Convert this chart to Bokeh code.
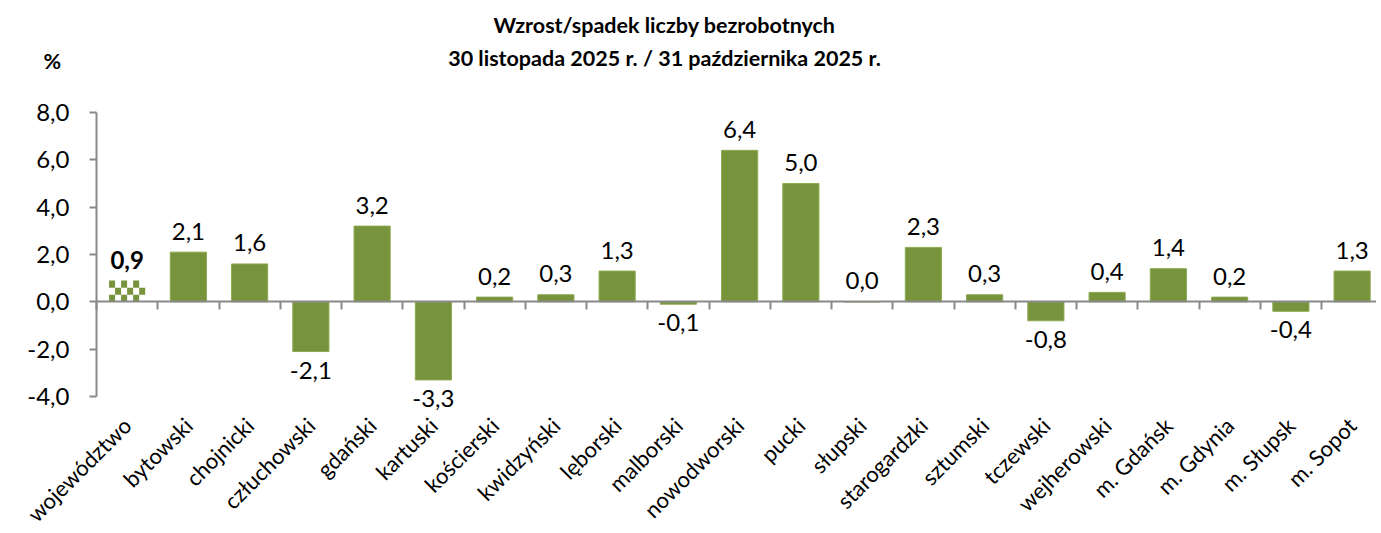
import math
from bokeh.plotting import figure
from bokeh.models import (Range1d, ColumnDataSource, FixedTicker, LinearAxis,
                          CustomJSTickFormatter, Label)
from bokeh.core.properties import value
from bokeh.embed import file_html
from bokeh.resources import INLINE

# ---------------- data ----------------
categories = ["województwo", "bytowski", "chojnicki", "człuchowski", "gdański",
              "kartuski", "kościerski", "kwidzyński", "lęborski", "malborski",
              "nowodworski", "pucki", "słupski", "starogardzki", "sztumski",
              "tczewski", "wejherowski", "m. Gdańsk", "m. Gdynia", "m. Słupsk",
              "m. Sopot"]
values = [0.9, 2.1, 1.6, -2.1, 3.2, -3.3, 0.2, 0.3, 1.3, -0.1,
          6.4, 5.0, 0.0, 2.3, 0.3, -0.8, 0.4, 1.4, 0.2, -0.4, 1.3]
highlight = ["województwo"]
y_ticks = [-4, -2, 0, 2, 4, 6, 8]
title_line1 = "Wzrost/spadek liczby bezrobotnych"
title_line2 = "30 listopada 2025 r. / 31 października 2025 r."
unit_label = "%"

# ---------------- geometry / style ----------------
W, H = 1376, 528
AXIS_X_PX = 96          # pixel position of the value axis
CAT_PX = 61.25          # pixel width of one category slot
Y_MIN, Y_MAX = -4, 8
Y_TOP_PX, Y_BOT_PX = 112, 396
FONT = "Lato"
BAR = "#77933C"
BAR_EDGE = "#8DAA4F"
AXIS = "#898989"
BAR_W = 0.59

ppu = (Y_BOT_PX - Y_TOP_PX) / (Y_MAX - Y_MIN)
x0 = -0.5 - AXIS_X_PX / CAT_PX
x_range = Range1d(x0, x0 + W / CAT_PX)
y_range = Range1d(Y_MIN - (H - Y_BOT_PX) / ppu, Y_MAX + Y_TOP_PX / ppu)

p = figure(width=W, height=H, x_range=x_range, y_range=y_range,
           output_backend="svg", toolbar_location=None,
           x_axis_location=None, y_axis_location=None,
           min_border=0)
p.title.visible = False
p.outline_line_color = None
p.grid.visible = False
p.background_fill_color = "white"
p.border_fill_color = "white"

idx = list(range(len(categories)))

# normal bars
nsel = [i for i in idx if categories[i] not in highlight]
src = ColumnDataSource(dict(x=nsel, val=[values[i] for i in nsel]))
p.vbar(x="x", top="val", bottom=0, width=BAR_W, source=src,
       fill_color=BAR, line_color=BAR_EDGE, line_width=1)

# checkered highlight bar(s)
cols, rows = 6, 3
cx, cy, cw, ch = [], [], [], []
for i in idx:
    if categories[i] not in highlight:
        continue
    v = values[i]
    w = BAR_W / cols
    h = v / rows
    for r in range(rows):
        for k in range(cols):
            if (r + k) % 2 == 0:
                cx.append(i - BAR_W / 2 + w * (k + 0.5))
                cy.append(h * (r + 0.5))
                cw.append(w)
                ch.append(h)
p.rect(x=cx, y=cy, width=cw, height=ch, fill_color=BAR, line_color=None)

# category axis at zero (line + boundary ticks, no labels)
bounds_x = [i - 0.5 for i in idx] + [idx[-1] + 0.5]
xa = LinearAxis(fixed_location=0, bounds=(bounds_x[0], bounds_x[-1]),
                ticker=FixedTicker(ticks=bounds_x),
                formatter=CustomJSTickFormatter(code="return '';"),
                axis_line_color=AXIS, axis_line_width=2,
                major_tick_line_color=AXIS, major_tick_line_width=2,
                major_tick_in=0, major_tick_out=8,
                minor_tick_line_color=None)
p.add_layout(xa, "below")

# value axis
ya = LinearAxis(fixed_location=-0.5, bounds=(Y_MIN, Y_MAX),
                ticker=FixedTicker(ticks=y_ticks),
                formatter=CustomJSTickFormatter(code="return tick.toFixed(1).replace('.', ',');"),
                axis_line_color=AXIS, axis_line_width=2,
                major_tick_line_color=AXIS, major_tick_line_width=2,
                major_tick_in=0, major_tick_out=7,
                minor_tick_line_color=None,
                major_label_standoff=20,
                major_label_text_font=FONT, major_label_text_font_size="24px",
                major_label_text_color="black")
p.add_layout(ya, "left")

# category labels (rotated, under the plot area)
p.text(x=idx, y=[Y_MIN] * len(idx), text=categories, angle=math.pi / 4,
       text_align="right", text_baseline="middle", y_offset=25,
       text_font=value(FONT), text_font_size="22px", text_color="black")

# data labels
def fmt(v):
    return f"{v:.1f}".replace(".", ",")

for positive in (True, False):
    for bold in (True, False):
        sel = [i for i in idx
               if (values[i] >= 0) == positive and (categories[i] in highlight) == bold]
        if not sel:
            continue
        p.text(x=sel, y=[values[i] for i in sel], text=[fmt(values[i]) for i in sel],
               text_align="center",
               text_baseline="alphabetic" if positive else "top",
               y_offset=-21 if positive else 10,
               text_font_style="bold" if bold else "normal",
               text_font=value(FONT), text_font_size="24px", text_color="black")

# title and unit
TITLE_X = 664
TITLE_SIZE = "21.5px"
p.add_layout(Label(x=TITLE_X, y=H - 24, x_units="screen", y_units="screen",
                   text=title_line1, text_align="center", text_baseline="alphabetic",
                   text_font=FONT, text_font_size=TITLE_SIZE,
                   text_font_style="bold", text_color="black"))
p.add_layout(Label(x=TITLE_X, y=H - 57, x_units="screen", y_units="screen",
                   text=title_line2, text_align="center", text_baseline="alphabetic",
                   text_font=FONT, text_font_size=TITLE_SIZE,
                   text_font_style="bold", text_color="black"))
p.add_layout(Label(x=43, y=H - 60, x_units="screen", y_units="screen",
                   text=unit_label, text_align="left", text_baseline="alphabetic",
                   text_font=FONT, text_font_size=TITLE_SIZE,
                   text_font_style="bold", text_color="black"))

open("out.html", "w").write(file_html(p, INLINE))
